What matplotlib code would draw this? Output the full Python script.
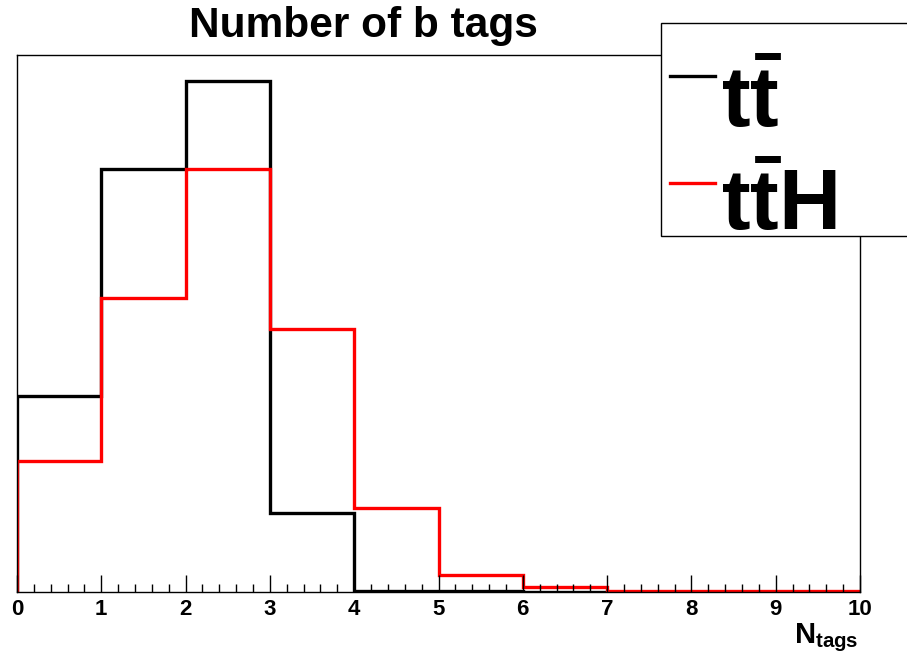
import numpy as np
import matplotlib
matplotlib.use("Agg")
import matplotlib.pyplot as plt
from matplotlib.patches import Rectangle

plt.rcParams['font.family'] = ['Liberation Sans', 'DejaVu Sans']
plt.rcParams['mathtext.fontset'] = 'custom'
plt.rcParams['mathtext.rm'] = 'Liberation Sans:bold'
plt.rcParams['mathtext.bf'] = 'Liberation Sans:bold'
plt.rcParams['mathtext.it'] = 'Liberation Sans:bold'

# histogram contents (unit-area normalised), bins of width 1 from 0 to 10
bin_edges = np.arange(0, 11)
ttbar = [0.162, 0.349, 0.422, 0.065, 0.0008, 0.0006, 0.0004, 0.0, 0.0, 0.0]
ttH = [0.108, 0.243, 0.349, 0.217, 0.069, 0.014, 0.004, 0.0008, 0.0006, 0.0005]
labels = [r'$\mathbf{t\bar{t}}$', r'$\mathbf{t\bar{t}H}$']
colors = ['black', '#ff0000']

fig = plt.figure(figsize=(9.07, 6.57), dpi=100)
ax = fig.add_axes([17/907, 65/657, (860-17)/907, (592-55)/657])

ax.stairs(ttbar, bin_edges, color=colors[0], lw=2.4)
ax.stairs(ttH, bin_edges, color=colors[1], lw=2.4)

ax.set_xlim(0, 10)
ax.set_ylim(0, max(ttbar) * 1.05)
ax.set_xticks(np.arange(0, 11))
ax.set_xticks(np.arange(0, 10.01, 0.2), minor=True)
ax.tick_params(axis='x', which='major', direction='in', length=12, width=1,
               labelsize=16, pad=5)
ax.tick_params(axis='x', which='minor', direction='in', length=6, width=1)
ax.tick_params(axis='y', left=False, labelleft=False)
for lab in ax.get_xticklabels():
    lab.set_fontweight('bold')
for sp in ax.spines.values():
    sp.set_linewidth(1)

fig.text(858/907, 1 - 643/657, r'$\mathbf{N_{tags}}$', fontsize=21,
         ha='right', va='baseline')
fig.text(363/907, 1 - 37/657, 'Number of b tags', fontsize=30.5,
         fontweight='bold', ha='center', va='baseline')

# legend box
fig.patches.append(Rectangle((661/907, 1 - 236/657), 0.5, (236-23)/657,
                             transform=fig.transFigure, fill=True,
                             facecolor='white', edgecolor='black', lw=1,
                             zorder=5))
for i, (lab, c) in enumerate(zip(labels, colors)):
    y = 1 - (76 + 107*i)/657
    fig.add_artist(plt.Line2D([670/907, 715/907], [y, y], color=c, lw=2.4,
                              transform=fig.transFigure, zorder=6))
    fig.text(721/907, 1 - (127 + 103*i)/657, lab, fontsize=62,
             ha='left', va='baseline', zorder=6)

fig.savefig('out.png', dpi=100)
